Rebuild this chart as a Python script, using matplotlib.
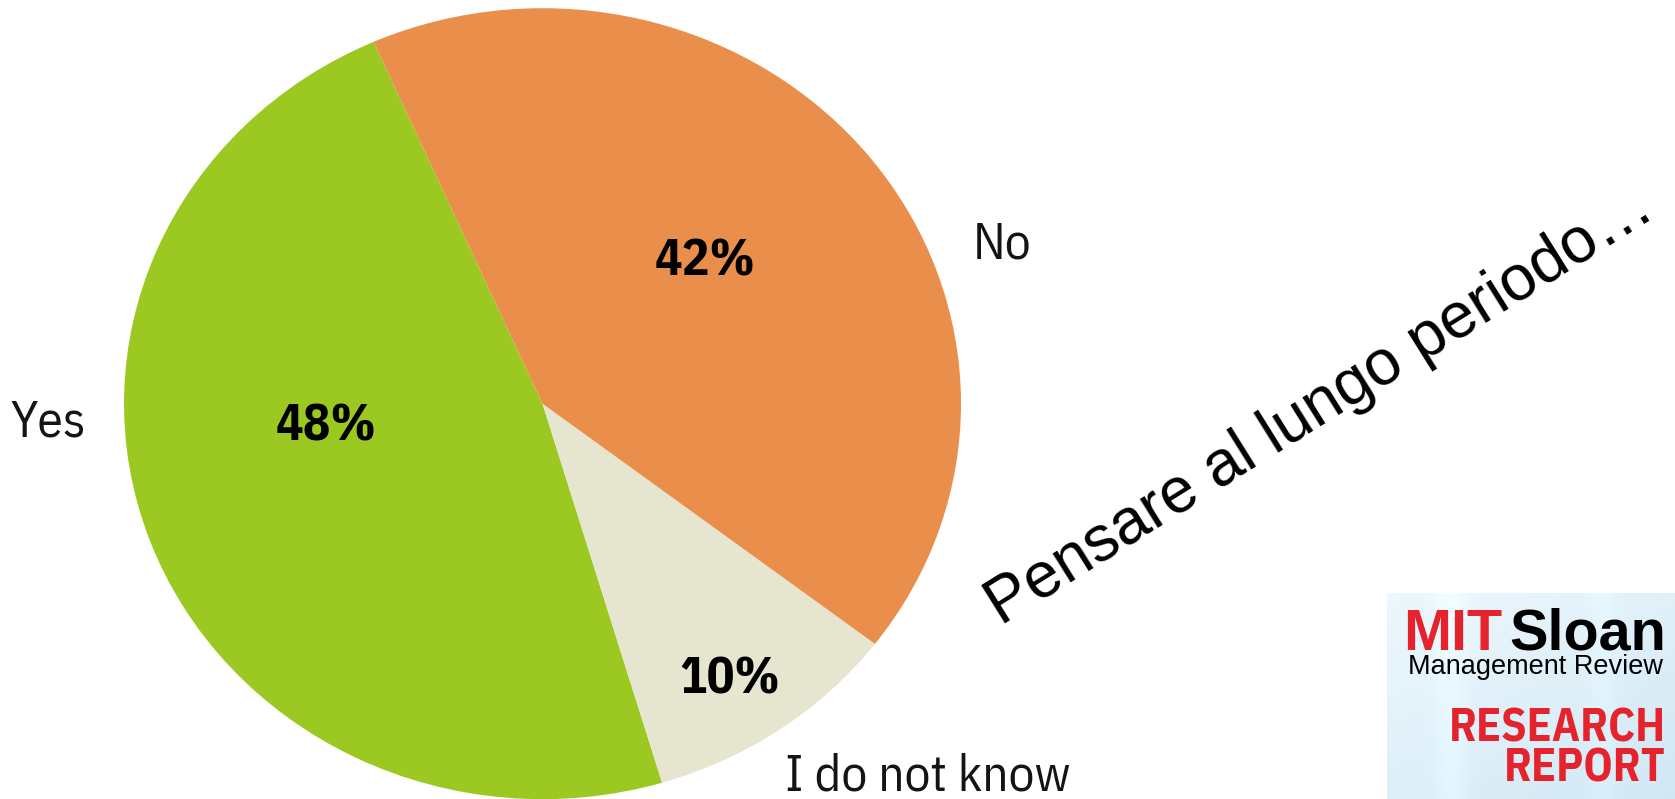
import numpy as np
import matplotlib
matplotlib.use("Agg")
import matplotlib.pyplot as plt
from matplotlib import font_manager as fm

# ---- data ----
categories = ["Yes", "I do not know", "No"]
values = [48, 10, 42]
colors = ["#9cc921", "#e5e5d0", "#ea8e4b"]
title_text = "Pensare al lungo periodo\u2026"
logo_brand = ["MIT", "Sloan"]
logo_sub = "Management Review"
logo_report = ["RESEARCH", "REPORT"]

W, H = 1675, 799


def find_font(name, weight, fallback_family, fallback_weight):
    for f in fm.fontManager.ttflist:
        if f.name == name and f.style == "normal" and f.weight == weight:
            return fm.FontProperties(fname=f.fname)
    return fm.FontProperties(family=fallback_family, weight=fallback_weight)


cond_reg = find_font("IBM Plex Sans Condensed", 400, "DejaVu Sans", "normal")
cond_bold = find_font("IBM Plex Sans Condensed", 700, "DejaVu Sans", "bold")
names = {f.name for f in fm.fontManager.ttflist}
wide = "Liberation Sans" if "Liberation Sans" in names else "DejaVu Sans"

fig = plt.figure(figsize=(W / 100, H / 100), dpi=100)
fig.patch.set_facecolor("white")

# pie axes sized to the (slightly elliptical) pie bounding box
cx, cy, rx, ry = 542.5, 403.7, 418.5, 395.5
ax = fig.add_axes([(cx - rx) / W, (H - cy - ry) / H, 2 * rx / W, 2 * ry / H])
ax.pie(values, colors=colors, startangle=113.8, counterclock=True,
       radius=1.0, center=(0, 0), wedgeprops=dict(linewidth=0))
ax.set_xlim(-1, 1)
ax.set_ylim(-1, 1)
ax.set_aspect("auto")
ax.axis("off")

# percentage labels (position per slice)
pct_pos = {"Yes": (-0.516, -0.094), "I do not know": (0.448, -0.732), "No": (0.389, 0.325)}
for cat, v in zip(categories, values):
    x, y = pct_pos[cat]
    fp = cond_bold.copy()
    fp.set_size(37)
    ax.text(x, y, f"{v}%", ha="center", va="baseline", fontproperties=fp,
            color="black", clip_on=False)

# category labels
lab_pos = {"Yes": (-1.091, -0.082, "right"), "I do not know": (0.921, -0.977, "center"),
           "No": (1.029, 0.366, "left")}
for cat in categories:
    x, y, ha = lab_pos[cat]
    fp = cond_reg.copy()
    fp.set_size(37)
    ax.text(x, y, cat, ha=ha, va="baseline", fontproperties=fp,
            color="#141414", clip_on=False)

# rotated title
fig.text(1001 / W, 1 - 626 / H, title_text, rotation=32, rotation_mode="anchor",
         ha="left", va="baseline", fontsize=46, family=[wide, "DejaVu Sans"],
         color="black")

# logo
lx0, ly0 = 1387, 593
lax = fig.add_axes([lx0 / W, 0, (W - lx0) / W, (H - ly0) / H])
nx, ny = 300, 210
xx = np.linspace(0, 1, nx)[None, :]
yy = np.linspace(0, 1, ny)[:, None]
base_top = np.array([0.93, 0.97, 0.99])
base_bot = np.array([0.82, 0.91, 0.96])
t = (0.55 * yy + 0.45 * xx)
img = base_top[None, None, :] * (1 - t[..., None]) + base_bot[None, None, :] * t[..., None]
streak = 0.03 * np.exp(-((xx - 0.22) / 0.06) ** 2) + 0.02 * np.exp(-((xx - 0.75) / 0.05) ** 2)
img = np.clip(img + streak[..., None], 0, 1)
lax.imshow(img, extent=[0, 1, 0, 1], aspect="auto", origin="upper")
lax.set_xlim(0, 1)
lax.set_ylim(0, 1)
lax.axis("off")


def px(x, y):
    return x / W, 1 - y / H


red = "#e5232c"
fig.text(*px(1403, 650), logo_brand[0], ha="left", va="baseline", fontsize=41.5,
         fontweight="bold", family=wide, color=red)
fig.text(*px(1666, 650), logo_brand[1], ha="right", va="baseline", fontsize=41.5,
         fontweight="bold", family=wide, color="black")
fig.text(*px(1535, 674), logo_sub, ha="center", va="baseline", fontsize=19.5,
         family=wide, color="black")
fpr = cond_bold.copy()
fpr.set_size(33)
fig.text(*px(1666, 742), logo_report[0], ha="right", va="baseline", fontproperties=fpr,
         color=red)
fig.text(*px(1666, 782), logo_report[1], ha="right", va="baseline", fontproperties=fpr,
         color=red)

fig.savefig("out.png", dpi=100, facecolor="white")
